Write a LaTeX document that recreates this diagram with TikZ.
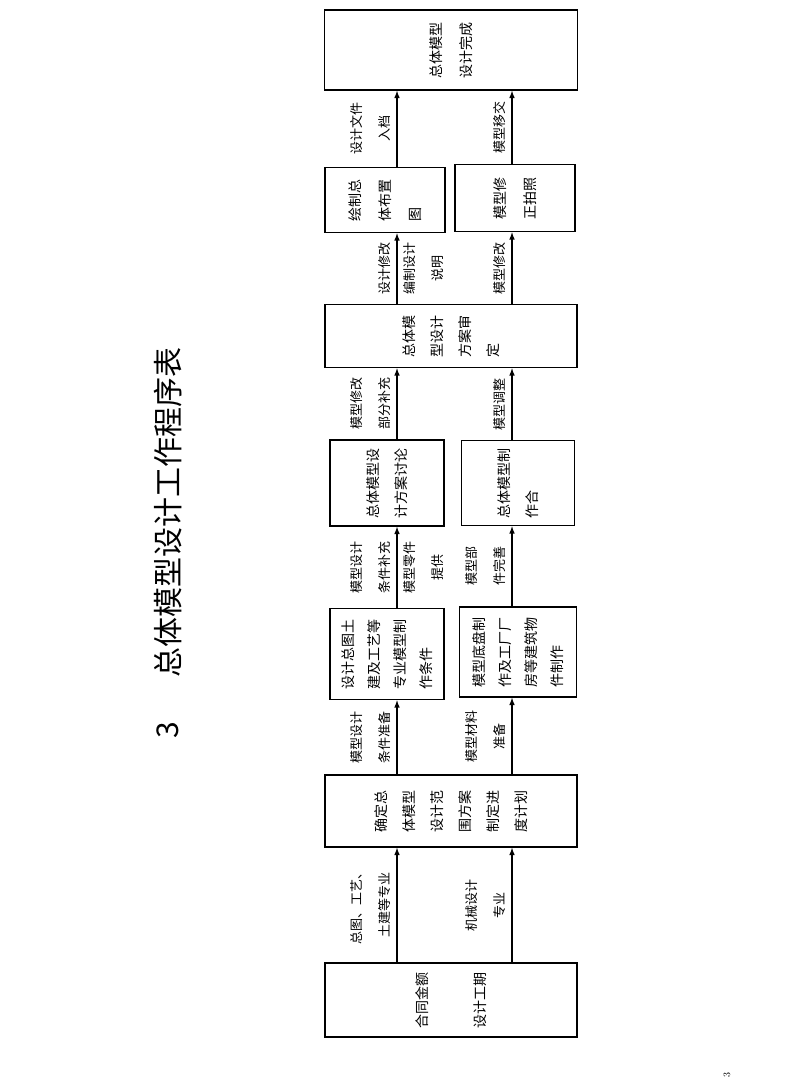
\documentclass[tikz,border=0pt]{standalone}
\usepackage{fontspec}
\newfontfamily\cjk{Noto Sans CJK SC}
\begin{document}
\begin{tikzpicture}[x=1pt,y=-1pt,line width=1.5pt,>=latex]
\tikzstyle{box}=[draw, rotate=90, align=left, inner sep=2pt, font=\cjk\fontsize{14}{28}\selectfont]
\tikzstyle{lbl}=[rotate=90, align=center, inner sep=6pt, font=\cjk\fontsize{13}{28}\selectfont]

\useasboundingbox (0,0) rectangle (800,1084);

% title
\node[rotate=90, font=\cjk\fontsize{30}{30}\selectfont] (titlenum) at (168,730) {3};
\node[rotate=90, font=\cjk\fontsize{30}{30}\selectfont] (title) at (168,512) {总体模型设计工作程序表};

% boxes
\node[box, minimum width=74pt, minimum height=252pt, font=\cjk\fontsize{14}{58}\selectfont] (start) at (451,1000) {合同金额\\设计工期};
\node[box, minimum width=72pt, minimum height=252pt] (scope) at (451,811) {确定总\\体模型\\设计范\\围方案\\制定进\\度计划};
\node[box, minimum width=91pt, minimum height=114pt, font=\cjk\fontsize{14}{26}\selectfont] (cond) at (387,654) {设计总图土\\建及工艺等\\专业模型制\\作条件};
\node[box, minimum width=90pt, minimum height=117pt, font=\cjk\fontsize{14}{26}\selectfont] (base) at (518,652) {模型底盘制\\作及工厂厂\\房等建筑物\\件制作};
\node[box, minimum width=86pt, minimum height=114pt] (plan) at (387,483) {总体模型设\\计方案讨论};
\node[box, minimum width=85pt, minimum height=113pt] (make) at (518,483) {总体模型制\\作合};
\node[box, minimum width=63pt, minimum height=252pt] (review) at (451,336) {总体模\\型设计\\方案审\\定};
\node[box, minimum width=65pt, minimum height=120pt, font=\cjk\fontsize{14}{30}\selectfont] (layout) at (385,200) {绘制总\\体布置\\图};
\node[box, minimum width=67pt, minimum height=120pt, font=\cjk\fontsize{14}{30}\selectfont] (photo) at (515,198) {模型修\\正拍照};
\node[box, minimum width=80pt, minimum height=253pt, font=\cjk\fontsize{14}{30}\selectfont] (done) at (451,50) {总体模型\\设计完成};

\coordinate (L) at (397,0);
\coordinate (R) at (512,0);

% connectors
\draw[->] (start.east -| L) -- (scope.west -| L)
    node[lbl, midway, anchor=south] {总图、工艺、\\土建等专业};
\draw[->] (start.east -| R) -- (scope.west -| R)
    node[lbl, midway, anchor=south] {机械设计\\专业};
\draw[->] (scope.east -| L) -- (cond.west -| L)
    node[lbl, midway, anchor=south] {模型设计\\条件准备};
\draw[->] (scope.east -| R) -- (base.west -| R)
    node[lbl, midway, anchor=south] {模型材料\\准备};
\draw[->] (cond.east -| L) -- (plan.west -| L)
    node[lbl, midway, anchor=south] {模型设计\\条件补充}
    node[lbl, midway, anchor=north] {模型零件\\提供};
\draw[->] (base.east -| R) -- (make.west -| R)
    node[lbl, midway, anchor=south] {模型部\\件完善};
\draw[->] (plan.east -| L) -- (review.west -| L)
    node[lbl, midway, anchor=south] {模型修改\\部分补充};
\draw[->] (make.east -| R) -- (review.west -| R)
    node[lbl, midway, anchor=south] {模型调整};
\draw[->] (review.east -| L) -- (layout.west -| L)
    node[lbl, midway, anchor=south] {设计修改}
    node[lbl, midway, anchor=north] {编制设计\\说明};
\draw[->] (review.east -| R) -- (photo.west -| R)
    node[lbl, midway, anchor=south] {模型修改};
\draw[->] (layout.east -| L) -- (done.west -| L)
    node[lbl, midway, anchor=south] {设计文件\\入档};
\draw[->] (photo.east -| R) -- (done.west -| R)
    node[lbl, midway, anchor=south] {模型移交};

% page number
\node[rotate=90, font=\normalsize] (pageno) at (727,1075) {3};
\end{tikzpicture}
\end{document}
